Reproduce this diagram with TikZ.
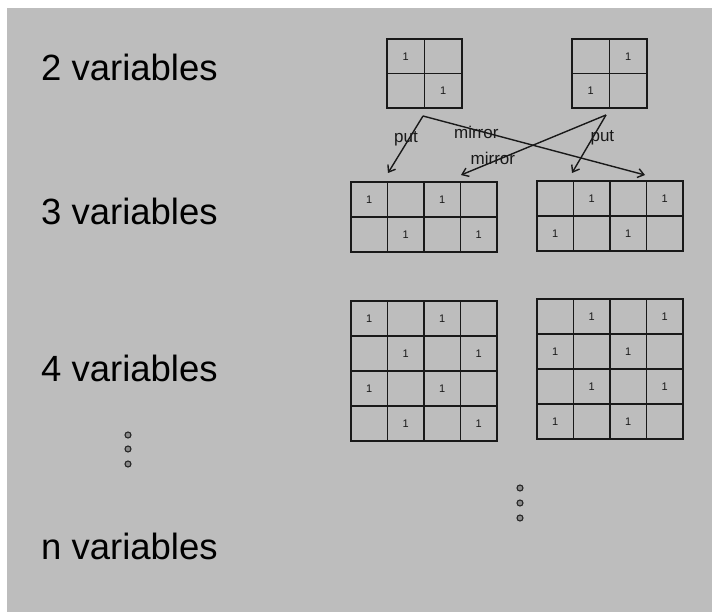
\documentclass[tikz,border=0pt]{standalone}
\usepackage{fontspec}
\setmainfont{Liberation Sans}
\usetikzlibrary{arrows.meta}

\tikzset{
  bgpanel/.style={fill=black!26},
  rowlabel/.style={anchor=base west, inner sep=0pt, font=\fontsize{36.5}{40}\selectfont},
  kmapbox/.style={draw=black!90, line width=1.8pt, inner sep=0pt, outer sep=0pt},
  gridline/.style={draw=black!90, line width=1.8pt},
  one/.style={inner sep=0pt, font=\fontsize{11}{12}\selectfont, text=black!90},
  vdot/.style={circle, draw=black!85, fill=black!45, line width=1.1pt, minimum size=6pt, inner sep=0pt},
  moveline/.style={draw=black!90, line width=1.4pt, -{Straight Barb[length=6pt,width=9pt]}},
  movelabel/.style={inner sep=0pt, font=\fontsize{17}{18}\selectfont, text=black!90}
}

% #1 name, #2 left, #3 top, #4 width, #5 height, #6 columns, #7 rows, #8 cells holding a 1 (row/col)
\newcommand{\kmap}[8]{%
  \node[kmapbox, anchor=north west, minimum width=#4pt, minimum height=#5pt] (#1) at (#2,#3) {};
  \pgfmathtruncatemacro\kmaplastc{#6-1}
  \pgfmathtruncatemacro\kmaplastr{#7-1}
  \foreach \c in {1,...,\kmaplastc}
    \draw[gridline] ([xshift={\c*#4/#6}]#1.north west) -- ([xshift={\c*#4/#6}]#1.south west);
  \foreach \r in {1,...,\kmaplastr}
    \draw[gridline] ([yshift={-\r*#5/#7}]#1.north west) -- ([yshift={-\r*#5/#7}]#1.north east);
  \foreach \r/\c in {#8}
    \node[one] (#1-\r-\c) at ([xshift={(\c-0.5)*#4/#6}, yshift={-(\r-0.5)*#5/#7}]#1.north west) {1};
}

\begin{document}
\begin{tikzpicture}[x=1pt, y=-1pt]
  \useasboundingbox (0,0) rectangle (712,612);
  \fill[white] (0,0) rectangle (712,612);
  \fill[bgpanel] (7,8) rectangle (712,612);

  % row captions
  \node[rowlabel] (l2) at (41,81)  {2 variables};
  \node[rowlabel] (l3) at (41,225) {3 variables};
  \node[rowlabel] (l4) at (41,381) {4 variables};
  \node[rowlabel] (ln) at (41,559) {n variables};

  % continuation dots
  \foreach \y [count=\k] in {435,449,464} \node[vdot] (dl\k) at (128,\y) {};
  \foreach \y [count=\k] in {488,503,518} \node[vdot] (dr\k) at (520,\y) {};

  % two-variable maps
  \kmap{m2a}{387}{39}{75}{69}{2}{2}{1/1, 2/2}
  \kmap{m2b}{572}{39}{75}{69}{2}{2}{1/2, 2/1}

  % three-variable maps
  \kmap{m3a}{351}{182}{146}{70}{4}{2}{1/1, 1/3, 2/2, 2/4}
  \kmap{m3b}{537}{181}{146}{70}{4}{2}{1/2, 1/4, 2/1, 2/3}

  % four-variable maps
  \kmap{m4a}{351}{301}{146}{140}{4}{4}{1/1, 1/3, 2/2, 2/4, 3/1, 3/3, 4/2, 4/4}
  \kmap{m4b}{537}{299}{146}{140}{4}{4}{1/2, 1/4, 2/1, 2/3, 3/2, 3/4, 4/1, 4/3}

  % start and end points of the put / mirror moves
  \coordinate (s2a) at ([xshift=-1.5, yshift=-8]m2a.south);
  \coordinate (s2b) at ([xshift=-3.5, yshift=-7]m2b.south);
  \coordinate (t3a1) at ([xshift=37, yshift=9]m3a.north west);
  \coordinate (t3a3) at ([xshift=110, yshift=7]m3a.north west);
  \coordinate (t3b1) at ([xshift=35, yshift=8]m3b.north west);
  \coordinate (t3b3) at ([xshift=108, yshift=6]m3b.north west);

  \draw[moveline] (s2a) -- node[movelabel, pos=0.4, xshift=-3] (putA) {put} (t3a1);
  \draw[moveline] (s2a) -- node[movelabel, pos=0.24, yshift=-2.5] (mirA) {mirror} (t3b3);
  \draw[moveline] (s2b) -- node[movelabel, pos=0.4, xshift=10] (putB) {put} (t3b1);
  \draw[moveline] (s2b) -- node[movelabel, pos=0.78, yshift=3] (mirB) {mirror} (t3a3);
\end{tikzpicture}
\end{document}
